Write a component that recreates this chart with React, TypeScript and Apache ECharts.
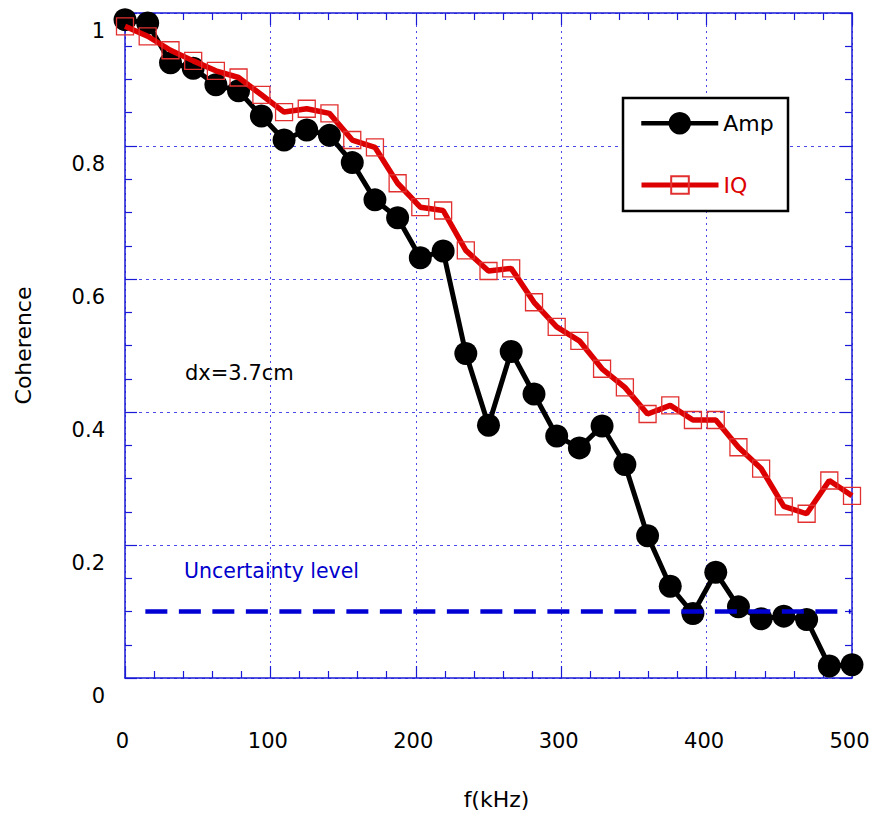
import React, { useEffect, useRef } from "react";
import * as echarts from "echarts";

// ---- data ----
const freqKHz = [
  0, 15.6, 31.3, 46.9, 62.5, 78.1, 93.8, 109.4, 125, 140.6, 156.3, 171.9, 187.5,
  203.1, 218.8, 234.4, 250, 265.6, 281.3, 296.9, 312.5, 328.1, 343.8, 359.4, 375,
  390.6, 406.3, 421.9, 437.5, 453.1, 468.8, 484.4, 500,
];
const ampCoherence = [
  0.99, 0.985, 0.925, 0.917, 0.892, 0.883, 0.845, 0.809, 0.824, 0.816, 0.775,
  0.719, 0.692, 0.632, 0.642, 0.488, 0.38, 0.491, 0.427, 0.364, 0.346, 0.379,
  0.321, 0.214, 0.138, 0.097, 0.159, 0.107, 0.089, 0.093, 0.088, 0.018, 0.02,
];
const iqCoherence = [
  0.98, 0.965, 0.944, 0.928, 0.913, 0.903, 0.877, 0.851, 0.856, 0.849, 0.809,
  0.798, 0.744, 0.708, 0.703, 0.643, 0.612, 0.616, 0.565, 0.528, 0.507, 0.465,
  0.437, 0.397, 0.41, 0.388, 0.388, 0.347, 0.315, 0.258, 0.247, 0.297, 0.274,
];
const uncertaintyX = [14, 499];
const uncertaintyLevel = 0.1;
const seriesNames = ["Amp", "IQ"];
const annotationText = "dx=3.7cm";
const uncertaintyText = "Uncertainty level";

const FONT = "DejaVu Sans";
const BLUE_AXIS = "#1a1ad6";
const GRID_BLUE = "#4a4ae8";

export default function App() {
  const ref = useRef<HTMLDivElement>(null);

  useEffect(() => {
    if (!ref.current) return;
    const chart = echarts.init(ref.current, null, { renderer: "svg" });

    const ampData = freqKHz.map((f, i) => [f, ampCoherence[i]]);
    const iqData = freqKHz.map((f, i) => [f, iqCoherence[i]]);
    const uncData = uncertaintyX.map((x) => [x, uncertaintyLevel]);

    const axisCommonX = {
      type: "value" as const,
      min: 0,
      max: 500,
      interval: 100,
      axisLine: { show: true, onZero: false, lineStyle: { color: BLUE_AXIS, width: 1.5 } },
      axisTick: { show: true, inside: true, length: 12, lineStyle: { color: BLUE_AXIS, width: 1.2 } },
      minorTick: { show: true, splitNumber: 5, length: 7, lineStyle: { color: BLUE_AXIS, width: 1.2 } },
    };
    const axisCommonY = {
      type: "value" as const,
      min: 0,
      max: 1,
      interval: 0.2,
      axisLine: { show: true, onZero: false, lineStyle: { color: BLUE_AXIS, width: 1.5 } },
      axisTick: { show: true, inside: true, length: 12, lineStyle: { color: BLUE_AXIS, width: 1.2 } },
      minorTick: { show: true, splitNumber: 4, length: 7, lineStyle: { color: BLUE_AXIS, width: 1.2 } },
    };

    chart.setOption({
      animation: false,
      backgroundColor: "#ffffff",
      grid: { left: 125, top: 13, right: 25, bottom: 140, containLabel: false },
      xAxis: [
        {
          ...axisCommonX,
          position: "bottom",
          name: "f(kHz)",
          nameLocation: "middle",
          nameGap: 110,
          nameTextStyle: { fontFamily: FONT, fontSize: 22, color: "#000", padding: [0, 0, 0, 16] },
          axisLabel: {
            show: true,
            margin: 52,
            fontFamily: FONT,
            fontSize: 21,
            color: "#000",
            padding: [0, 5, 0, 0],
          },
          splitLine: { show: true, lineStyle: { color: GRID_BLUE, width: 1, type: [2, 4] } },
        },
        {
          ...axisCommonX,
          position: "top",
          axisLabel: { show: false },
          splitLine: { show: false },
        },
      ],
      yAxis: [
        {
          ...axisCommonY,
          position: "left",
          name: "Coherence",
          nameLocation: "middle",
          nameGap: 91,
          nameTextStyle: { fontFamily: FONT, fontSize: 22, color: "#000" },
          axisLabel: {
            show: true,
            margin: 20,
            fontFamily: FONT,
            fontSize: 21,
            color: "#000",
            verticalAlign: "top",
            padding: [7, 0, 0, 0],
          },
          splitLine: { show: true, lineStyle: { color: GRID_BLUE, width: 1, type: [3, 4] } },
        },
        {
          ...axisCommonY,
          position: "right",
          axisLabel: { show: false },
          splitLine: { show: false },
        },
      ],
      legend: [
        {
          data: [{ name: seriesNames[0] }],
          left: 639,
          top: 112,
          padding: 0,
          itemWidth: 77,
          itemHeight: 28,
          selectedMode: false,
          z: 6,
          lineStyle: { width: 4.5 },
          textStyle: { fontFamily: FONT, fontSize: 22, color: "#000" },
        },
        {
          data: [{ name: seriesNames[1] }],
          left: 639,
          top: 174,
          padding: 0,
          itemWidth: 77,
          itemHeight: 22,
          selectedMode: false,
          z: 6,
          lineStyle: { width: 5 },
          textStyle: { fontFamily: FONT, fontSize: 22, color: "#dd0000" },
        },
      ],
      graphic: [
        {
          type: "rect",
          z: 3,
          shape: { x: 623, y: 98, width: 165, height: 113 },
          style: { fill: "#ffffff", stroke: "#000", lineWidth: 2.5 },
        },
        {
          type: "text",
          z: 10,
          x: 185,
          y: 373,
          style: {
            text: annotationText,
            fontFamily: FONT,
            fontSize: 21,
            fill: "#000",
            textVerticalAlign: "middle",
            verticalAlign: "middle",
          },
        },
        {
          type: "text",
          z: 10,
          x: 184,
          y: 571,
          style: {
            text: uncertaintyText,
            fontFamily: FONT,
            fontSize: 20.5,
            fill: "#0000cc",
            textVerticalAlign: "middle",
            verticalAlign: "middle",
          },
        },
      ],
      series: [
        {
          name: seriesNames[0],
          type: "line",
          data: ampData,
          symbol: "circle",
          symbolSize: 23,
          lineStyle: { color: "#000", width: 5 },
          itemStyle: { color: "#000" },
          z: 3,
        },
        {
          name: seriesNames[1],
          type: "line",
          data: iqData,
          symbol: "rect",
          symbolSize: 17,
          lineStyle: { color: "#dd0000", width: 5.5 },
          itemStyle: { color: "rgba(0,0,0,0)", borderColor: "#e23030", borderWidth: 1.3 },
          z: 4,
        },
        {
          name: "uncertainty",
          type: "line",
          data: uncData,
          symbol: "none",
          lineStyle: { color: "#0000d4", width: 4.5, type: [22, 11.5] },
          z: 5,
        },
      ],
    });

    return () => chart.dispose();
  }, []);

  return (
    <div
      ref={ref}
      style={{ position: "absolute", left: 0, top: 0, width: 877, height: 818 }}
    />
  );
}
